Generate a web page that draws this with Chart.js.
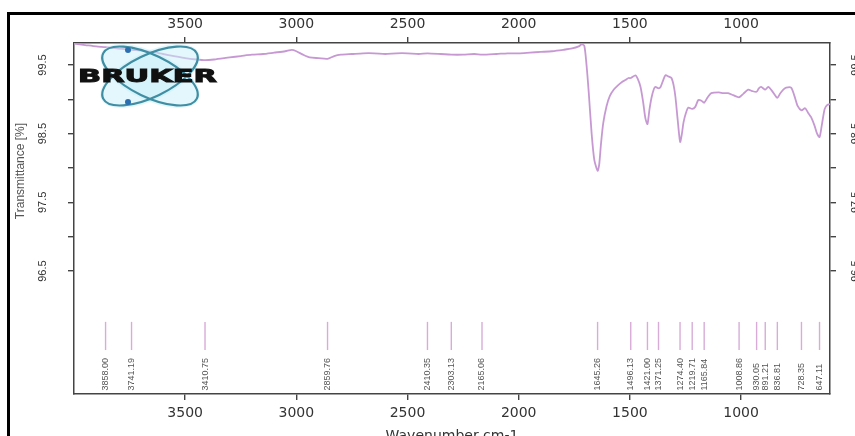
<!DOCTYPE html>
<html>
<head>
<meta charset="utf-8">
<title>IR spectrum</title>
<script src="https://cdn.jsdelivr.net/npm/chart.js@4.4.1/dist/chart.umd.min.js"></script>
<style>
  html, body { margin: 0; padding: 0; background: #fff; }
  #wrap { width: 855px; height: 436px; }
</style>
</head>
<body>
<div id="wrap"><canvas id="irChart" width="855" height="436"></canvas></div>
<script>
// spectrum (cm-1, %T)
const wavenumbers = [
  4000, 3950, 3900, 3858, 3800, 3741, 3700, 3650, 3600, 3550,
  3500, 3450, 3410, 3370, 3300, 3250, 3200, 3150, 3100, 3050,
  3020, 3000, 2970, 2940, 2900, 2860, 2830, 2800, 2750, 2700,
  2650, 2600, 2550, 2500, 2450, 2410, 2350, 2303, 2250, 2200,
  2165, 2100, 2050, 2000, 1950, 1900, 1850, 1800, 1760, 1730,
  1717, 1705, 1695, 1685, 1672, 1660, 1645, 1638, 1630, 1620,
  1605, 1590, 1573, 1555, 1537, 1520, 1506, 1496, 1475, 1465,
  1452, 1440, 1430, 1421, 1412, 1403, 1392, 1385, 1371, 1362,
  1350, 1340, 1325, 1313, 1303, 1295, 1285, 1274, 1266, 1259,
  1248, 1237, 1220, 1206, 1192, 1178, 1166, 1150, 1134, 1100,
  1080, 1058, 1035, 1009, 990, 968, 950, 930, 920, 910,
  891, 878, 860, 837, 825, 810, 797, 775, 760, 745,
  728, 712, 698, 685, 670, 658, 647, 637, 624, 612,
  600
];
const transmittance = [
  99.81, 99.79, 99.77, 99.76, 99.74, 99.72, 99.71, 99.69, 99.66, 99.63,
  99.60, 99.58, 99.57, 99.58, 99.61, 99.63, 99.65, 99.66, 99.68, 99.70,
  99.72, 99.70, 99.65, 99.61, 99.60, 99.59, 99.63, 99.65, 99.66, 99.67,
  99.67, 99.66, 99.67, 99.67, 99.66, 99.67, 99.66, 99.65, 99.65, 99.66,
  99.65, 99.66, 99.67, 99.67, 99.68, 99.69, 99.70, 99.72, 99.74, 99.77,
  99.80, 99.78, 99.50, 99.10, 98.50, 98.12, 97.96, 98.05, 98.35, 98.65,
  98.90, 99.05, 99.14, 99.20, 99.25, 99.28, 99.31, 99.31, 99.35, 99.30,
  99.18, 98.95, 98.72, 98.64, 98.85, 99.02, 99.15, 99.18, 99.16, 99.18,
  99.28, 99.35, 99.33, 99.31, 99.20, 99.03, 98.70, 98.38, 98.50, 98.66,
  98.80, 98.88, 98.86, 98.89, 98.99, 98.98, 98.95, 99.03, 99.09, 99.10,
  99.09, 99.09, 99.06, 99.03, 99.08, 99.14, 99.12, 99.11, 99.16, 99.18,
  99.14, 99.18, 99.12, 99.02, 99.08, 99.14, 99.17, 99.17, 99.05, 98.90,
  98.84, 98.87, 98.80, 98.74, 98.62, 98.50, 98.45, 98.62, 98.86, 98.92,
  98.93
];

// picked peaks
const peakPositions = [
  3858.00, 3741.19, 3410.75, 2859.76, 2410.35, 2303.13, 2165.06,
  1645.26, 1496.13, 1421.00, 1371.25, 1274.40, 1219.71, 1165.84,
  1008.86, 930.05, 891.21, 836.81, 728.35, 647.11
];

const xTickValues = [3500, 3000, 2500, 2000, 1500, 1000];
const yTickValues = [96.5, 97.0, 97.5, 98.0, 98.5, 99.0, 99.5];
const yLabelledTicks = [96.5, 97.5, 98.5, 99.5];

const xMin = 600, xMax = 4000;
const yMin = 94.71, yMax = 99.82;

// where the peak marks sit on the y scale
const markerTop = 95.76;
const markerBottom = 95.35;
const labelBase = 94.76;

const axisColor = "#444";
const textColor = "#333";

const framePlugin = {
  id: "frame",
  beforeDraw(chart) {
    const ctx = chart.ctx;
    ctx.save();
    ctx.fillStyle = "#fff";
    ctx.fillRect(0, 0, chart.width, chart.height);
    ctx.restore();
  },
  afterDraw(chart) {
    const ctx = chart.ctx;
    ctx.save();
    ctx.fillStyle = "#000";
    ctx.fillRect(7, 12, chart.width - 7, 3);
    ctx.fillRect(7, 12, 3, chart.height - 12);

    // y title, placed beside the spectrum part of the axis
    ctx.translate(21, 171);
    ctx.rotate(-Math.PI / 2);
    ctx.font = '12px "Liberation Sans", Arial, sans-serif';
    ctx.fillStyle = "#555";
    ctx.textAlign = "center";
    ctx.textBaseline = "middle";
    ctx.fillText("Transmittance [%]", 0, 0);
    ctx.restore();
  }
};

const logoPlugin = {
  id: "logo",
  afterDatasetsDraw(chart) {
    const ctx = chart.ctx;
    const cx = 150, cy = 76;
    ctx.save();
    ctx.fillStyle = "rgba(200,240,250,0.5)";
    [-1, 1].forEach((s) => {
      ctx.beginPath();
      ctx.ellipse(cx, cy, 54, 24, s * 0.45, 0, Math.PI * 2);
      ctx.fill();
    });
    ctx.strokeStyle = "#3f8ea3";
    ctx.lineWidth = 2.2;
    [-1, 1].forEach((s) => {
      ctx.beginPath();
      ctx.ellipse(cx, cy, 52, 21, s * 0.45, 0, Math.PI * 2);
      ctx.stroke();
    });
    ctx.fillStyle = "#2b6fb0";
    [[128, 50], [128, 102]].forEach(([dx, dy]) => {
      ctx.beginPath();
      ctx.arc(dx, dy, 3, 0, Math.PI * 2);
      ctx.fill();
    });

    ctx.font = 'bold 18px "DejaVu Sans", sans-serif';
    const w = ctx.measureText("BRUKER").width;
    ctx.translate(78, 77);
    ctx.scale(139 / w, 1);
    ctx.textBaseline = "middle";
    ctx.fillStyle = "#111";
    ctx.strokeStyle = "#111";
    ctx.lineWidth = 1;
    ctx.fillText("BRUKER", 0, 0);
    ctx.strokeText("BRUKER", 0, 0);
    ctx.restore();
  }
};

const peakPlugin = {
  id: "peakMarks",
  afterDatasetsDraw(chart) {
    const { ctx, scales: { x, y } } = chart;
    const top = y.getPixelForValue(markerTop);
    const bottom = y.getPixelForValue(markerBottom);
    const base = y.getPixelForValue(labelBase);
    ctx.save();
    ctx.strokeStyle = "#d8acd8";
    ctx.lineWidth = 1.4;
    ctx.fillStyle = "#555";
    ctx.font = '9px "Liberation Sans", Arial, sans-serif';
    peakPositions.forEach((p) => {
      const px = x.getPixelForValue(p);
      ctx.beginPath();
      ctx.moveTo(px, top);
      ctx.lineTo(px, bottom);
      ctx.stroke();
      ctx.save();
      ctx.translate(px, base);
      ctx.rotate(-Math.PI / 2);
      ctx.textAlign = "left";
      ctx.textBaseline = "middle";
      ctx.fillText(p.toFixed(2), 0, 0);
      ctx.restore();
    });
    ctx.restore();
  }
};

function xAxis(position, height, padding, withTitle) {
  return {
    type: "linear",
    position: position,
    min: xMin,
    max: xMax,
    reverse: true,
    afterBuildTicks: (scale) => { scale.ticks = xTickValues.map((v) => ({ value: v })); },
    afterFit: (scale) => { scale.height = height; },
    ticks: {
      padding: padding,
      color: textColor,
      autoSkip: false,
      maxRotation: 0,
      font: { family: "DejaVu Sans", size: 14 },
      callback: (v) => String(v)
    },
    title: {
      display: withTitle,
      text: "Wavenumber cm-1",
      color: textColor,
      font: { family: "DejaVu Sans", size: 14 },
      padding: { top: 0, bottom: -9 }
    },
    grid: { drawOnChartArea: false, tickLength: 6, color: axisColor, lineWidth: 1.4 },
    border: { color: axisColor, width: 1.5 }
  };
}

function yAxis(position, width, padding) {
  return {
    type: "linear",
    position: position,
    min: yMin,
    max: yMax,
    afterBuildTicks: (scale) => { scale.ticks = yTickValues.map((v) => ({ value: v })); },
    afterFit: (scale) => { scale.width = width; },
    ticks: {
      minRotation: 90,
      maxRotation: 90,
      crossAlign: "center",
      padding: padding,
      autoSkip: false,
      color: textColor,
      font: { family: "Liberation Sans", size: 11 },
      callback: (v) => (yLabelledTicks.includes(v) ? v.toFixed(1) : "")
    },
    grid: { drawOnChartArea: false, tickLength: 6, color: axisColor, lineWidth: 1.4 },
    border: { color: axisColor, width: 1.5 }
  };
}

new Chart(document.getElementById("irChart"), {
  type: "line",
  data: {
    datasets: [
      {
        label: "Transmittance",
        data: wavenumbers.map((w, i) => ({ x: w, y: transmittance[i] })),
        borderColor: "#c699d3",
        borderWidth: 1.8,
        pointRadius: 0,
        tension: 0.25,
        xAxisID: "x",
        yAxisID: "y"
      }
    ]
  },
  options: {
    responsive: false,
    animation: false,
    layout: { padding: 0 },
    plugins: {
      legend: { display: false },
      tooltip: { enabled: false }
    },
    scales: {
      x: xAxis("bottom", 42, 5, true),
      x2: xAxis("top", 43, 4, false),
      y: yAxis("left", 74, 14),
      y2: yAxis("right", 25, 9)
    }
  },
  plugins: [framePlugin, logoPlugin, peakPlugin]
});
</script>
</body>
</html>
